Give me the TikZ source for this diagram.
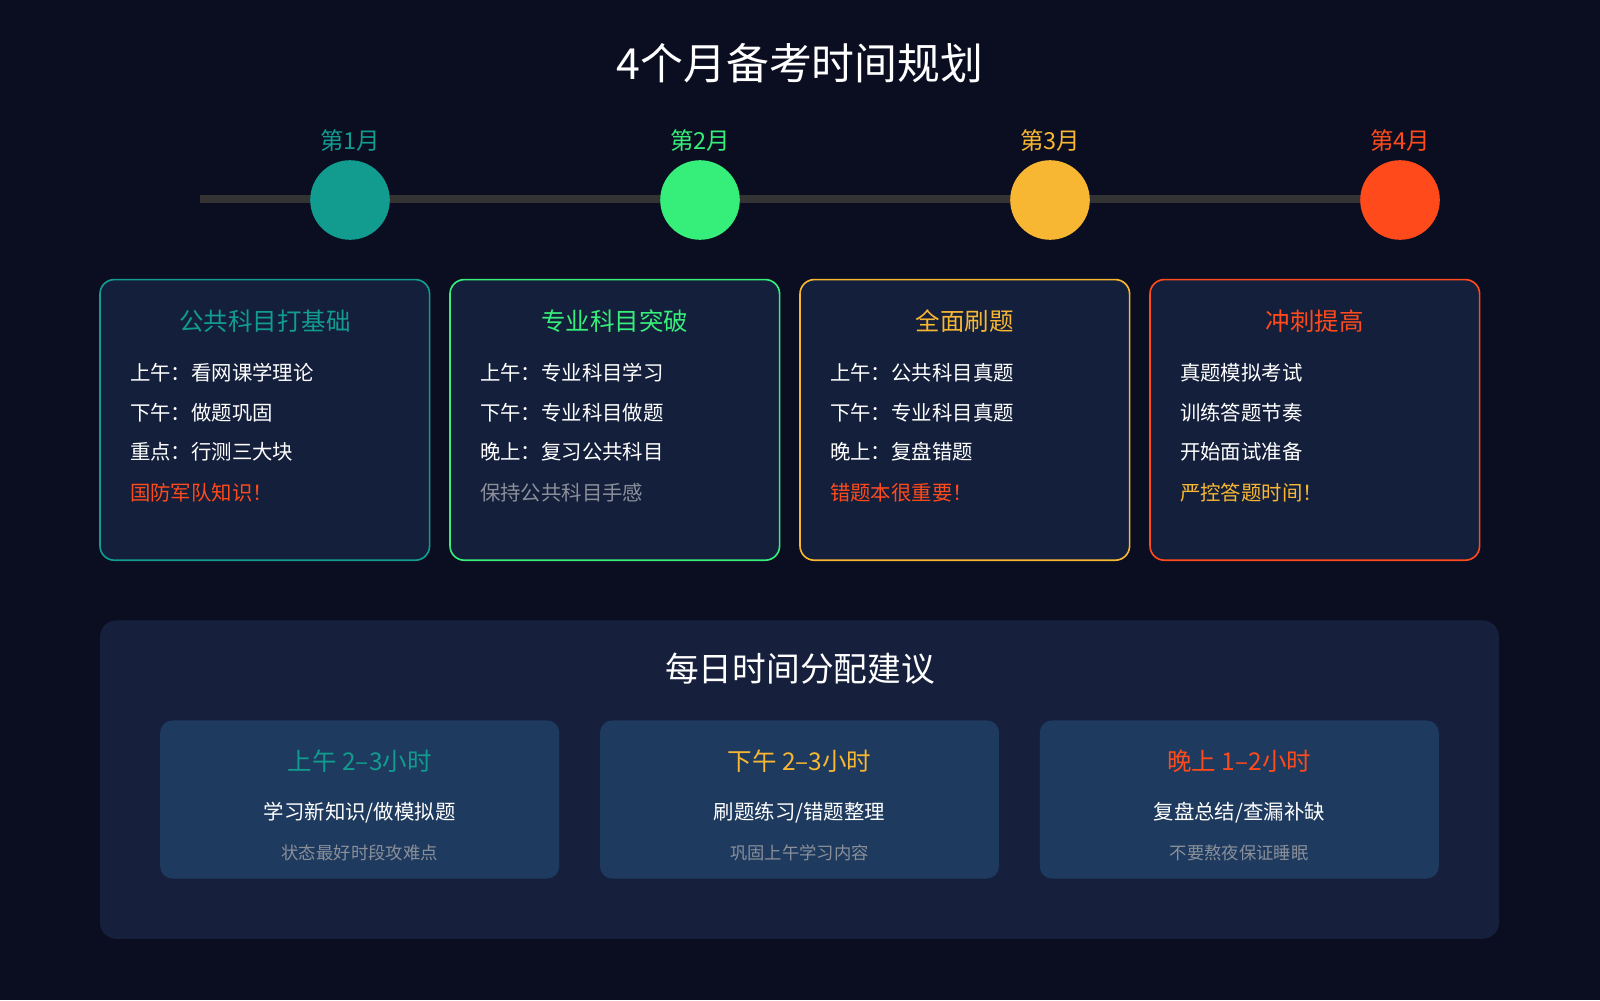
\documentclass[tikz,border=0pt]{standalone}
\usepackage{fontspec}
\setmainfont{Noto Sans CJK SC}
\usetikzlibrary{calc}
\definecolor{bgnavy}{HTML}{0B0E21}
\definecolor{cardnavy}{HTML}{141F3B}
\definecolor{panelnavy}{HTML}{16203D}
\definecolor{subnavy}{HTML}{1E3A5E}
\definecolor{teal}{HTML}{119C8F}
\definecolor{mint}{HTML}{36EE7A}
\definecolor{amber}{HTML}{F7B733}
\definecolor{flame}{HTML}{FF4A1C}
\definecolor{mute}{HTML}{8A8F9A}
\tikzset{
  card/.style={rounded corners=14pt,line width=1.6pt,fill=cardnavy},
  item/.style={anchor=west,text=white,font=\fontsize{20}{20}\selectfont},
  subcard/.style={rounded corners=12pt,fill=subnavy}
}
\begin{document}
\begin{tikzpicture}[line cap=round,line join=round,x=1pt,y=-1pt]
            \fill[bgnavy] (0,0) rectangle (1568,980);
            \node[text=white,font=\fontsize{42}{42}\selectfont] (title) at (784,62) {4个月备考时间规划};
            % timeline
            \draw[line width=7pt,color=black!80!white,line cap=butt] (196,195) -- (1372,195);
            \foreach \x/\c/\m in {343/teal/1,686/mint/2,1029/amber/3,1372/flame/4}{
              \fill[\c] (\x,196) circle (39);
              \node[text=\c,font=\fontsize{23}{23}\selectfont] (month\m) at (\x,138) {第\m 月};
            }
            % month cards
            \foreach \x/\c/\t/\a/\b/\d/\e/\ec [count=\i] in {
              98/teal/公共科目打基础/上午：看网课学理论/下午：做题巩固/重点：行测三大块/国防军队知识！/flame,
              441/mint/专业科目突破/上午：专业科目学习/下午：专业科目做题/晚上：复习公共科目/保持公共科目手感/mute,
              784/amber/全面刷题/上午：公共科目真题/下午：专业科目真题/晚上：复盘错题/错题本很重要！/flame,
              1127/flame/冲刺提高/真题模拟考试/训练答题节奏/开始面试准备/严控答题时间！/amber}{
              \draw[card,draw=\c] (\x,274) rectangle ++(323,275);
              \node[text=\c,font=\fontsize{24}{24}\selectfont] (cardtitle\i) at (\x+161.5,315) {\t};
              \node[item] (a\i) at (\x+26,365) {\a};
              \node[item] (b\i) at (\x+26,404) {\b};
              \node[item] (d\i) at (\x+26,443) {\d};
              \node[item,text=\ec] (e\i) at (\x+26,483) {\e};
            }
            % daily panel
            \fill[panelnavy,rounded corners=16pt] (98,608) rectangle (1469,920);
            \node[text=white,font=\fontsize{33}{33}\selectfont] (daily) at (784,655) {每日时间分配建议};
            \foreach \x/\c/\t/\a/\b [count=\i] in {
              157/teal/上午 2–3小时/{学习新知识/做模拟题}/状态最好时段攻难点,
              588/amber/下午 2–3小时/{刷题练习/错题整理}/巩固上午学习内容,
              1019/flame/晚上 1–2小时/{复盘总结/查漏补缺}/不要熬夜保证睡眠}{
              \fill[subcard] (\x,706) rectangle ++(391,155);
              \node[text=\c,font=\fontsize{24}{24}\selectfont] (slot\i) at (\x+195.5,746) {\t};
              \node[text=white,font=\fontsize{20}{20}\selectfont] (task\i) at (\x+195.5,796) {\a};
              \node[text=mute,font=\fontsize{17}{17}\selectfont] (tip\i) at (\x+195.5,836) {\b};
            }
\end{tikzpicture}
\end{document}
